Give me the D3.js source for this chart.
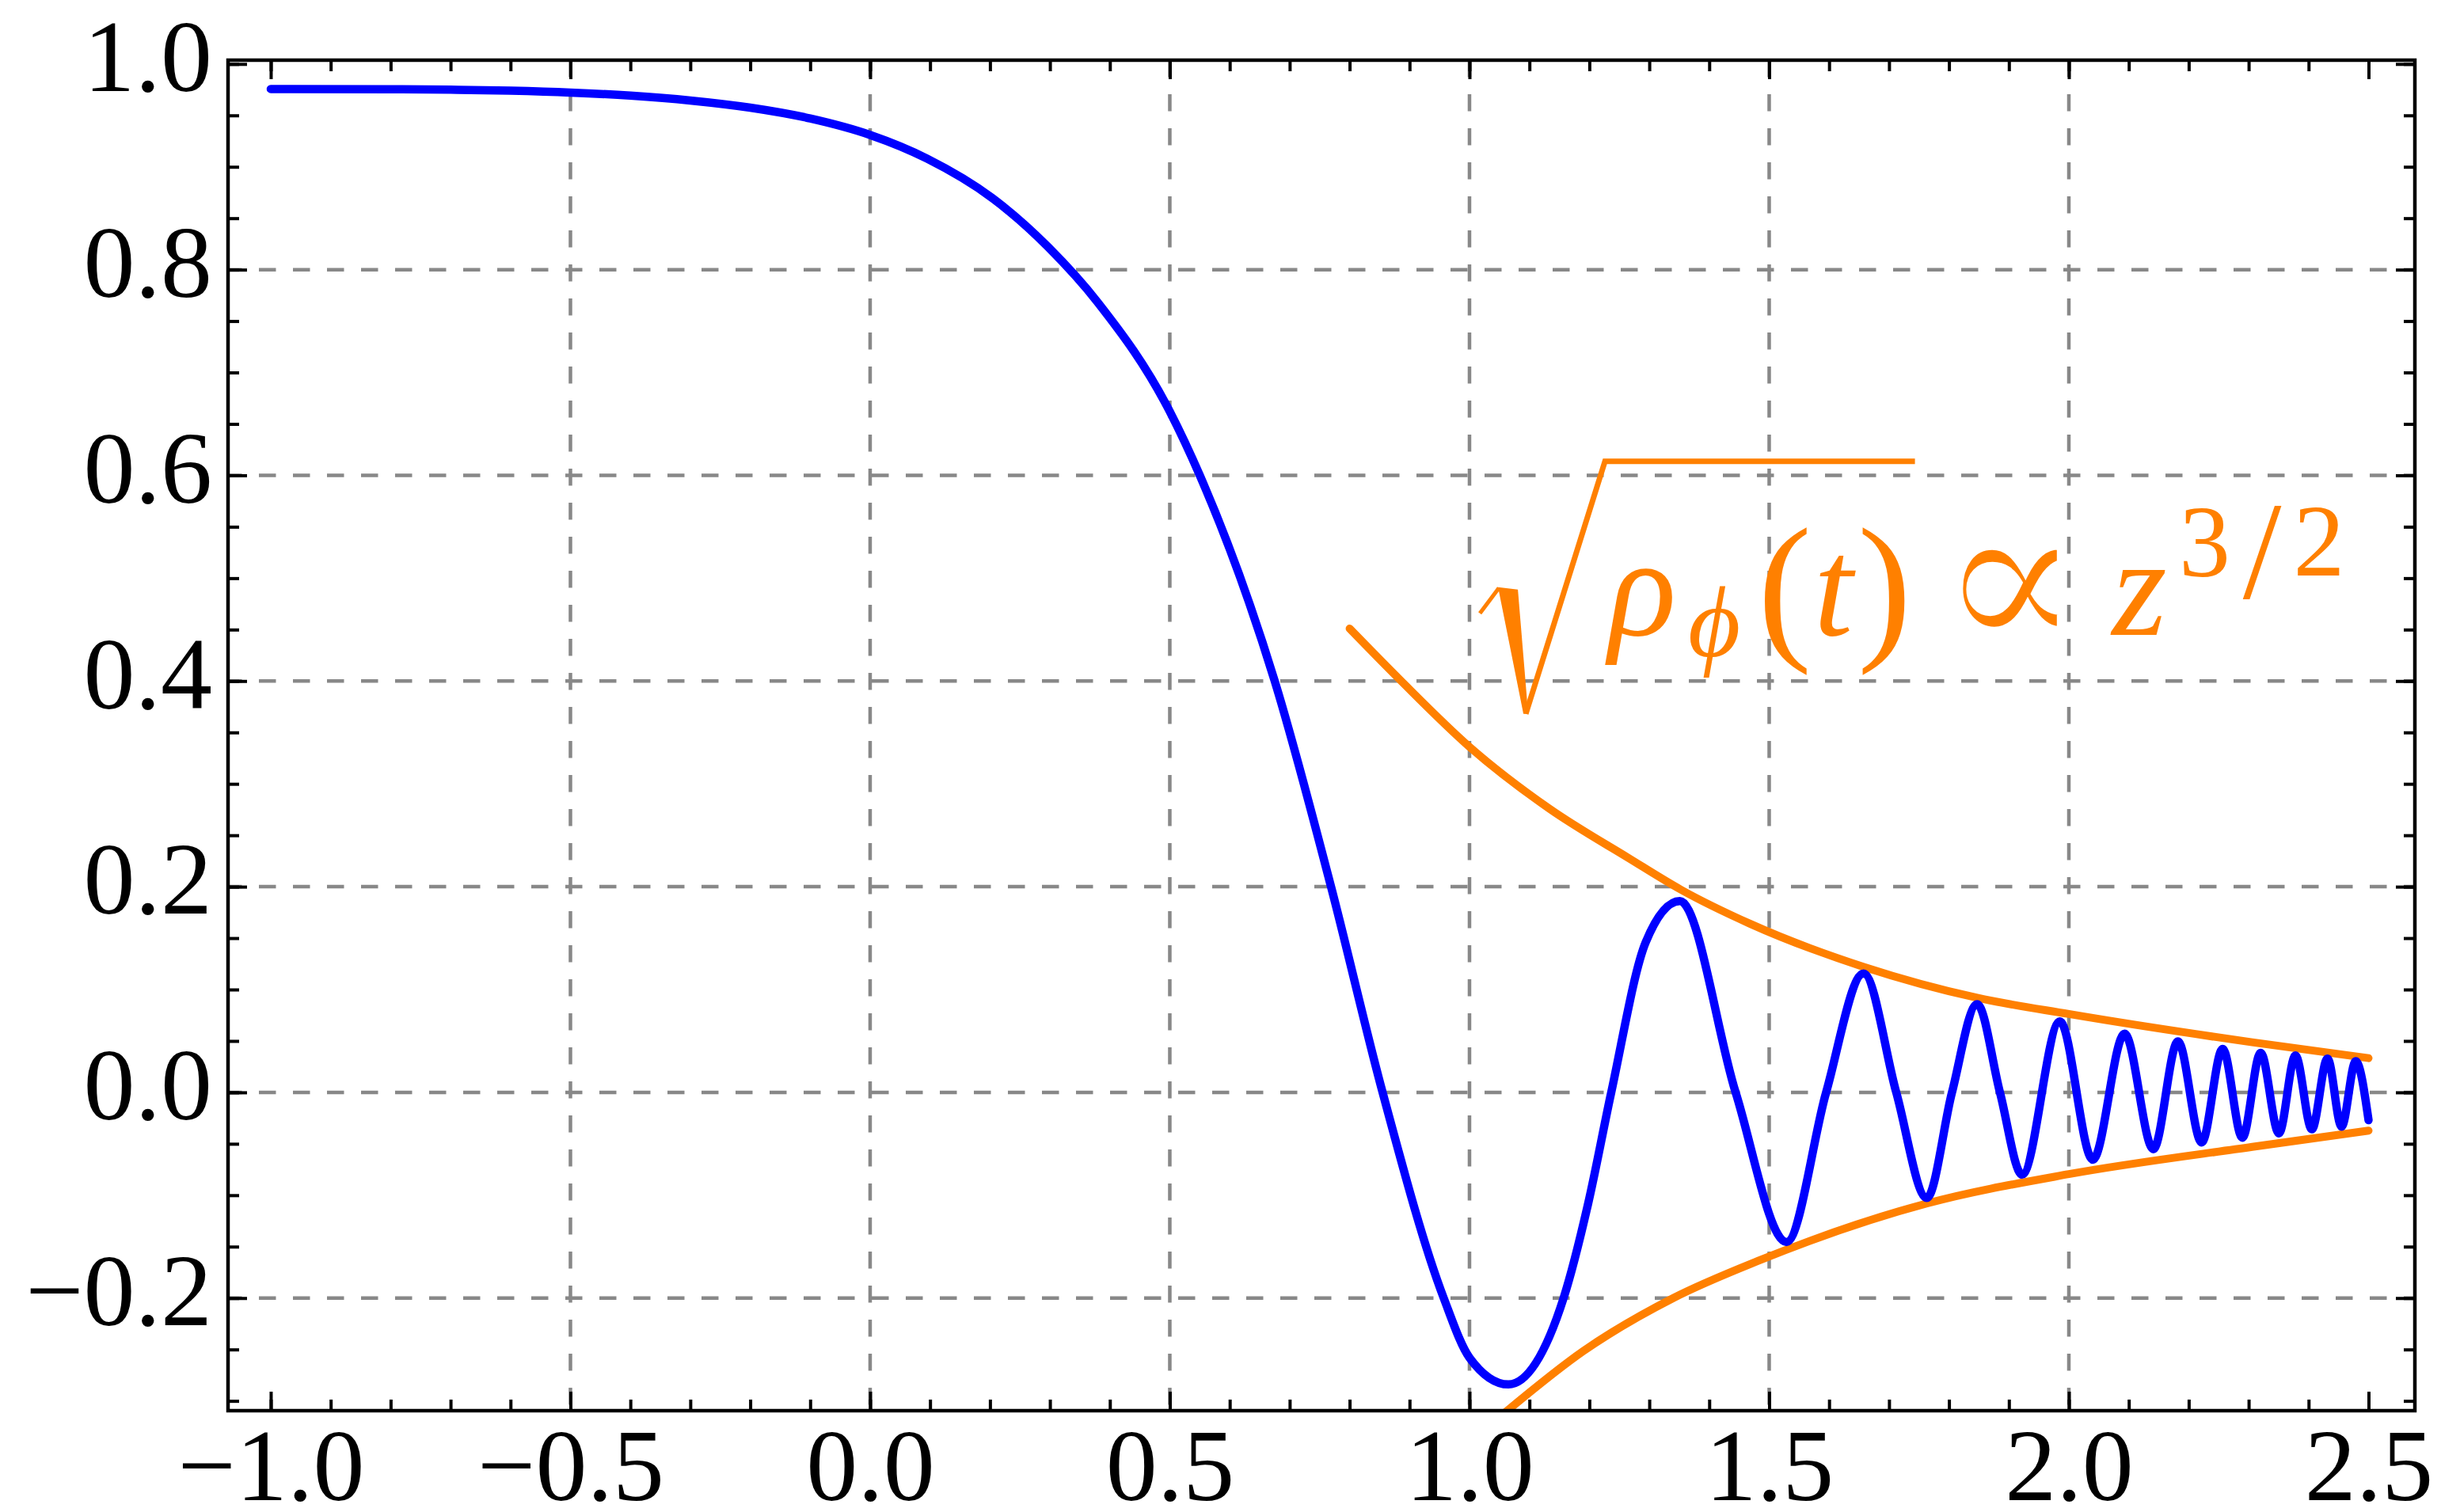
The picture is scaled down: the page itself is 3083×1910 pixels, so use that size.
<!DOCTYPE html>
<html lang="en">
<head>
<meta charset="UTF-8">
<title>wave and envelope</title>
<script src="https://cdn.jsdelivr.net/npm/d3@7"></script>
<style>
    body { margin: 0; background: #fff; }
    .lbl text { font-family: "Liberation Serif", "Times New Roman", serif; font-size: 130px; fill: #000; }
    .tk path { display: none; }
    .tk line { stroke: #000; stroke-width: 4; }
    .grid line { stroke: #888; stroke-width: 4.5; stroke-dasharray: 21.5 21.5; }
    .frame { fill: none; stroke: #000; stroke-width: 4.5; }
</style>
</head>
<body>
<script>
// values
var waveX = [-1.0, -0.8, -0.7, -0.6, -0.5, -0.4, -0.3, -0.2, -0.1, 0.0,
             0.095, 0.203, 0.297, 0.38, 0.5, 0.55, 0.675, 0.769,
             0.855, 0.957, 1.0, 1.065, 1.157, 1.198, 1.2365, 1.294,
             1.351, 1.444, 1.529, 1.595, 1.6575, 1.712, 1.763, 1.805, 1.847,
             1.885, 1.922, 1.985, 2.040, 2.093, 2.141, 2.182, 2.2216, 2.2566, 2.2895,
             2.320, 2.3505, 2.378, 2.4054, 2.4315, 2.455, 2.4786, 2.50];
var waveY = [0.9757, 0.9755, 0.9750, 0.9740, 0.9722, 0.9692, 0.9645, 0.9575, 0.9470, 0.931,
             0.908, 0.870, 0.822, 0.768, 0.662, 0.600, 0.400, 0.200,
             0.0, -0.200, -0.258, -0.284, -0.200, -0.108, 0.0, 0.146,
             0.186, 0.0, -0.1455, 0.0, 0.1156, 0.0, -0.1027, 0.0, 0.0858,
             0.0, -0.080, 0.069, -0.0654, 0.057, -0.0552, 0.0495, -0.0487, 0.0423, -0.0441,
             0.0385, -0.0398, 0.0359, -0.0359, 0.0329, -0.0333, 0.0303, -0.027];

var upperX = [0.80, 0.886, 1.0, 1.133, 1.265, 1.353, 1.468, 1.658, 1.847, 2.0, 2.306, 2.5];
var upperY = [0.451, 0.40, 0.336, 0.276, 0.228, 0.197, 0.164, 0.122, 0.092, 0.0762, 0.0487, 0.0333];

var lowerX = [1.06, 1.19, 1.34, 1.481, 1.763, 2.0, 2.306, 2.5];
var lowerY = [-0.311, -0.2515, -0.2, -0.164, -0.108, -0.0795, -0.0530, -0.0372];

var xTicks = [-1.0, -0.5, 0.0, 0.5, 1.0, 1.5, 2.0, 2.5];
var xTickLabels = ["\u22121.0", "\u22120.5", "0.0", "0.5", "1.0", "1.5", "2.0", "2.5"];
var yTicks = [-0.2, 0.0, 0.2, 0.4, 0.6, 0.8, 1.0];
var yTickLabels = ["\u22120.2", "0.0", "0.2", "0.4", "0.6", "0.8", "1.0"];
var xGrid = [-0.5, 0.0, 0.5, 1.0, 1.5, 2.0];
var yGrid = [-0.2, 0.0, 0.2, 0.4, 0.6, 0.8];

var annotX = 1.23, annotY = 0.445;   // baseline start of the formula

var width = 3083, height = 1910;
var pl = 288, pr = 3050, pt = 76, pb = 1782;
var blue = "#0000ff", orange = "#ff8000";

var svg = d3.select("body").append("svg")
        .attr("width", width)
        .attr("height", height);

var x = d3.scaleLinear().domain([-1.0713, 2.5773]).range([pl, pr]);
var y = d3.scaleLinear().domain([-0.3095, 1.0037]).range([pb, pt]);

// grid
svg.append("g").attr("class", "grid")
        .selectAll("line").data(xGrid).enter().append("line")
        .attr("x1", d => x(d)).attr("x2", d => x(d))
        .attr("y1", pt).attr("y2", pb);
svg.append("g").attr("class", "grid")
        .selectAll("line").data(yGrid).enter().append("line")
        .attr("x1", pl).attr("x2", pr)
        .attr("y1", d => y(d)).attr("y2", d => y(d))
        .style("stroke-dashoffset", 4);

// curves, clipped to the frame
svg.append("clipPath").attr("id", "clip")
        .append("rect").attr("x", pl).attr("y", pt)
        .attr("width", pr - pl).attr("height", pb - pt);

var line = d3.line()
        .x(d => x(d[0]))
        .y(d => y(d[1]))
        .curve(d3.curveMonotoneX);

var plot = svg.append("g").attr("clip-path", "url(#clip)");
plot.append("path").datum(d3.zip(upperX, upperY))
        .attr("d", line).attr("fill", "none")
        .attr("stroke", orange).attr("stroke-width", 10).attr("stroke-linecap", "round");
plot.append("path").datum(d3.zip(lowerX, lowerY))
        .attr("d", line).attr("fill", "none")
        .attr("stroke", orange).attr("stroke-width", 10).attr("stroke-linecap", "round");
plot.append("path").datum(d3.zip(waveX, waveY))
        .attr("d", line).attr("fill", "none")
        .attr("stroke", blue).attr("stroke-width", 10.5)
        .attr("stroke-linejoin", "round").attr("stroke-linecap", "round");

// ticks on all four sides, pointing inwards
var xMinor = d3.range(-10, 26).map(i => i / 10);
var yMinor = d3.range(-6, 21).map(i => i / 20);

function tickAxis(axis, vals, len, tx, ty) {
    svg.append("g").attr("class", "tk")
            .attr("transform", "translate(" + tx + "," + ty + ")")
            .call(axis.tickValues(vals).tickSize(len).tickFormat(""));
}
tickAxis(d3.axisBottom(x), xMinor, -14, 0, pb);
tickAxis(d3.axisBottom(x), xTicks, -24, 0, pb);
tickAxis(d3.axisTop(x), xMinor, -14, 0, pt);
tickAxis(d3.axisTop(x), xTicks, -24, 0, pt);
tickAxis(d3.axisLeft(y), yMinor, -14, pl, 0);
tickAxis(d3.axisLeft(y), yTicks, -24, pl, 0);
tickAxis(d3.axisRight(y), yMinor, -14, pr, 0);
tickAxis(d3.axisRight(y), yTicks, -24, pr, 0);

// tick labels
svg.append("g").attr("class", "lbl tk")
        .attr("transform", "translate(0," + pb + ")")
        .call(d3.axisBottom(x).tickValues(xTicks).tickSize(0).tickPadding(21)
                .tickFormat((d, i) => xTickLabels[i]));
var yLab = svg.append("g").attr("class", "lbl tk")
        .attr("transform", "translate(" + pl + ",0)")
        .call(d3.axisLeft(y).tickValues(yTicks).tickSize(0).tickPadding(20)
                .tickFormat((d, i) => yTickLabels[i]));
yLab.selectAll("text").attr("dy", "0.26em");

svg.append("rect").attr("class", "frame")
        .attr("x", pl).attr("y", pt)
        .attr("width", pr - pl).attr("height", pb - pt);

// formula  sqrt(rho_phi(t)) ∝ z^{3/2}
var ann = svg.append("g")
        .attr("transform", "translate(" + x(annotX) + "," + y(annotY) + ")")
        .attr("fill", orange)
        .style("font-family", "'Liberation Serif', 'DejaVu Serif', serif")
        .attr("text-anchor", "middle");

function glyph(t, dx, dy, size, italic) {
    return ann.append("text").text(t)
            .attr("x", dx).attr("y", dy)
            .style("font-size", size + "px")
            .style("font-style", italic ? "italic" : "normal");
}
glyph("\u03c1", 44.5, 0, 178, true);
glyph("\u03d5", 135, 27, 128, true);
glyph("(", 224, 7, 205, false);
glyph("t", 285.5, 0, 178, true);
glyph(")", 350, 7, 205, false);
glyph("\u221d", 508.5, 22, 270, false)
        .style("font-family", "'DejaVu Serif', serif")
        .attr("stroke", "#fff").attr("stroke-width", 6);   // thins the heavy glyph
glyph("z", 672, 0, 178, true);
glyph("3", 754.5, -74, 130, false);
glyph("/", 827, -47, 175, false);
glyph("2", 899, -75, 130, false);

// radical sign
ann.append("path").attr("d", "M-161,-27L-137,-59").attr("stroke", orange).attr("stroke-width", 5);
ann.append("path").attr("d", "M-138,-60L-113,-57L-100,100L-106,100Z");
ann.append("path").attr("d", "M-103,100L-3,-219L388.5,-219")
        .attr("fill", "none").attr("stroke", orange).attr("stroke-width", 7)
        .attr("stroke-linejoin", "miter");
</script>
</body>
</html>
